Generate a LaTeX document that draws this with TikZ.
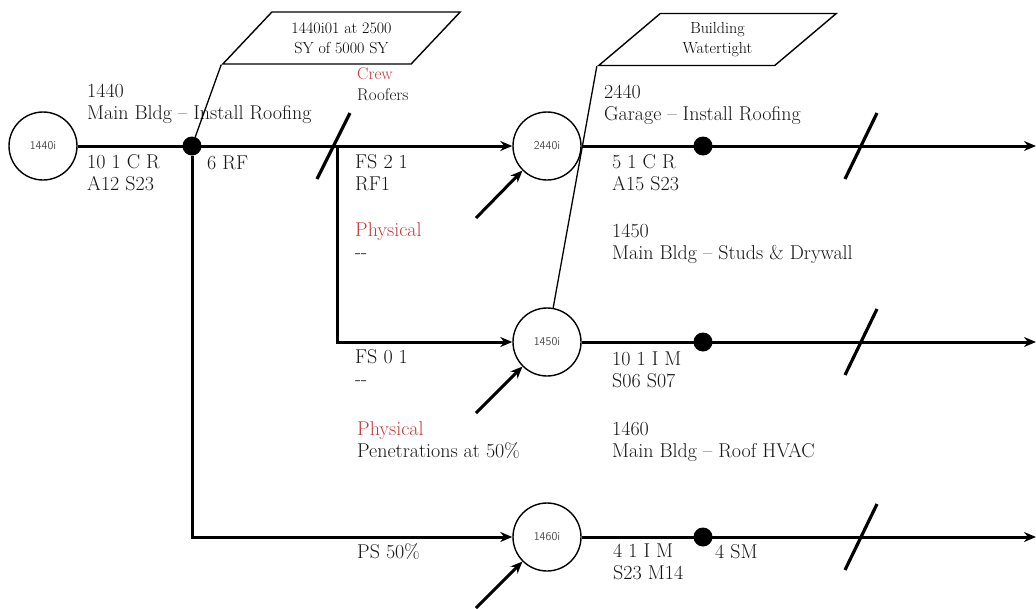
\documentclass[tikz,border=0pt]{standalone}
\usepackage{xcolor}
\usepackage{tikz}
\usetikzlibrary{arrows.meta,calc,shapes.geometric}
\definecolor{crew}{HTML}{C0393B}

\begin{document}
\begin{tikzpicture}[x=1pt, y=-1pt,
  act/.style={draw, circle, line width=1.4pt, minimum size=68pt, inner sep=0pt, font=\sffamily\fontsize{12}{14}\selectfont, text=black!70},
  dot/.style={circle, fill=black, minimum size=19pt, inner sep=0pt},
  memo/.style={draw, line width=1.4pt, trapezium, trapezium left angle=45, trapezium right angle=135, trapezium stretches=true, minimum height=52pt, minimum width=238pt, align=center, font=\fontsize{16}{20}\selectfont},
  lbl/.style={anchor=base west, inner sep=0pt, align=left, font=\fontsize{20}{22}\selectfont, text=black!92},
  link/.style={-{Stealth[length=12pt,width=10pt]}, line width=3pt},
  tie/.style={line width=1.3pt},
  tick/.style={line width=3.2pt}]
\useasboundingbox (0,0) rectangle (1036,608);
\node[act] (c1440) at (43,146) {1440i};
\node[act] (c2440) at (547,146) {2440i};
\node[act] (c1450) at (547,342) {1450i};
\node[act] (c1460) at (547,537) {1460i};
\node[dot] (d1440) at (192,146) {};
\node[dot] (d2440) at (703,146) {};
\node[dot] (d1450) at (703,342) {};
\node[dot] (d1460) at (703,537) {};
\node[memo] (goal) at (341.5,38) {1440i01 at 2500\\SY of 5000 SY};
\node[memo] (dry) at (717.5,39.5) {Building\\Watertight};
\coordinate (fs) at (337,146);
\coordinate (o2440) at (1036,146);
\coordinate (o1450) at (1036,342);
\coordinate (o1460) at (1036,537);
\coordinate (p2440) at (476,218);
\coordinate (p1450) at (476,413);
\coordinate (p1460) at (476,608);
% labels (base = last line)
\node[lbl] (t1440) at (87,119) {1440\\Main Bldg -- Install Roofing};
\node[lbl] (r1440) at (87,190) {10 1 C R\\A12 S23};
\node[lbl] (rf) at (207,169) {6 RF};
\node[lbl, font=\fontsize{17}{21}\selectfont] (crw) at (357,100) {\textcolor{crew}{Crew}\\Roofers};
\node[lbl] (fs21) at (355,190) {FS 2 1\\RF1};
\node[lbl] (ph1) at (355,258) {\textcolor{crew}{Physical}\\{-}{-}};
\node[lbl] (t2440) at (604,120) {2440\\Garage -- Install Roofing};
\node[lbl] (r2440) at (612,190) {5 1 C R\\A15 S23};
\node[lbl] (t1450) at (612,259) {1450\\Main Bldg -- Studs \& Drywall};
\node[lbl] (fs01) at (355,385) {FS 0 1\\{-}{-}};
\node[lbl] (r1450) at (612,387) {10 1 I M\\S06 S07};
\node[lbl] (ph2) at (357,457) {\textcolor{crew}{Physical}\\Penetrations at 50\%};
\node[lbl] (t1460) at (612,457) {1460\\Main Bldg -- Roof HVAC};
\node[lbl] (ps) at (357,558) {PS 50\%};
\node[lbl] (r1460) at (613,579) {4 1 I M\\S23 M14};
\node[lbl] (sm) at (715,558) {4 SM};
% links
\draw[link] (c1440) -- (c2440);
\draw[link] (d1440) |- (c1460);
\draw[link] (fs) |- (c1450);
\draw[link] (c2440) -- (o2440);
\draw[link] (c1450) -- (o1450);
\draw[link] (c1460) -- (o1460);
\draw[link] (p2440) -- (c2440.225);
\draw[link] (p1450) -- (c1450.225);
\draw[link] (p1460) -- (c1460.225);
\draw[tie] (goal.bottom left corner) -- (d1440);
\draw[tie] (dry.bottom left corner) -- (c1450);
% breaks
\draw[tick] (317,179) -- (350,113);
\draw[tick] (845,179) -- (877,113);
\draw[tick] (845,375) -- (877,309);
\draw[tick] (845,570) -- (877,504);
\end{tikzpicture}
\end{document}
